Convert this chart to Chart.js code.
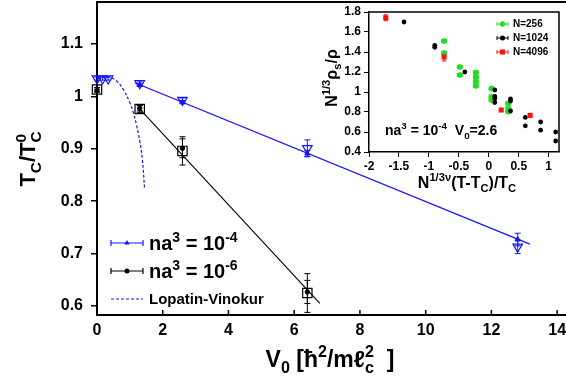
<!DOCTYPE html>
<html>
<head>
<meta charset="utf-8">
<script src="https://cdn.jsdelivr.net/npm/chart.js@4.4.1/dist/chart.umd.min.js"></script>
<style>
  html, body { margin: 0; padding: 0; overflow: hidden; background: #fff; width: 566px; height: 387px; }
  #wrap { position: relative; width: 600px; height: 387px; }
  #main { position: absolute; left: 0; top: 0; }
  #inset { position: absolute; left: 300px; top: 0; }
</style>
</head>
<body>
<div id="wrap">
  <canvas id="main" width="600" height="387"></canvas>
  <canvas id="inset" width="266" height="200"></canvas>
</div>
<script>
const FONT = '"Liberation Sans", Arial, Helvetica, sans-serif';
const BLUE = '#1414ff', GREEN = '#22dd22', RED = '#ff1010';

// ---- main plot: Tc/Tc0 vs V0 ----
const xTicks = [0, 2, 4, 6, 8, 10, 12, 14];
const yTicks = [0.6, 0.7, 0.8, 0.9, 1.0, 1.1];
const yTickLabels = ['0.6', '0.7', '0.8', '0.9', '1', '1.1'];

// na^3 = 1e-4
const v0Open4 = [0, 0.17, 0.34, 1.3, 2.6, 6.4, 12.8];
const tcOpen4 = [1.034, 1.034, 1.034, 1.025, 0.993, 0.901, 0.713];
const errOpen4 = [0.003, 0.003, 0.003, 0.004, 0.004, 0.016, 0.013];
const v0Fill4 = [1.3, 2.6, 6.4, 12.8];
const tcFill4 = [1.022, 0.989, 0.891, 0.727];
const errFill4 = [0.003, 0.003, 0.006, 0.012];
const fit4X = [1.15, 13.17];
const fit4Y = [1.026, 0.718];

// na^3 = 1e-6
const v0Six = [0, 1.3, 2.6, 6.4];
const tcOpen6 = [1.013, 0.976, 0.896, 0.625];
const errOpen6 = [0.004, 0.007, 0.027, 0.037];
const tcFill6 = [1.011, 0.977, 0.901, 0.627];
const errFill6 = [0.003, 0.005, 0.018, 0.022];
const fit6X = [1.27, 6.78];
const fit6Y = [0.978, 0.605];

// Lopatin-Vinokur curve
const lvX = [0, 0.2, 0.4, 0.6, 0.8, 1.0, 1.1, 1.2, 1.3, 1.38, 1.45];
const lvY = [1.033, 1.036, 1.036, 1.029, 1.013, 0.988, 0.970, 0.946, 0.915, 0.880, 0.822];

// ---- inset: scaled superfluid fraction ----
const inXTicks = [-2, -1.5, -1, -0.5, 0, 0.5, 1];
const inXTickLabels = ['-2', '-1.5', '-1', '-0.5', '0', '0.5', '1'];
const inYTicks = [0.4, 0.6, 0.8, 1.0, 1.2, 1.4, 1.6, 1.8];
const inYTickLabels = ['0.4', '0.6', '0.8', '1', '1.2', '1.4', '1.6', '1.8'];

const n256X = [-0.746, -0.746, -0.484, -0.484, -0.216, -0.216, -0.216, -0.216, 0.046, 0.046, 0.046, 0.325, 0.325, 0.325];
const n256Y = [1.51, 1.39, 1.25, 1.17, 1.195, 1.149, 1.105, 1.061, 1.035, 0.954, 0.92, 0.887, 0.836, 0.803];
const n1024X = [-1.415, -0.902, -0.902, -0.40, 0.10, 0.10, 0.10, 0.10, 0.363, 0.363, 0.363, 0.61, 0.61, 0.865, 0.865, 1.116, 1.116];
const n1024Y = [1.70, 1.467, 1.447, 1.20, 1.02, 0.955, 0.935, 0.895, 0.93, 0.91, 0.81, 0.746, 0.662, 0.70, 0.618, 0.60, 0.51];
const n4096X = [-1.72, -0.746, 0.207, 0.69];
const n4096Y = [1.742, 1.35, 0.82, 0.766];
const n4096Err = [0.03, 0.04, 0.012, 0.018];

const pts = (xs, ys) => xs.map((x, i) => ({ x, y: ys[i] }));
const fill = (xs, v) => xs.map(() => v);

// draws text with sub/superscripts; parts are strings or {sub, sup}
function rich(ctx, parts, x, y, size, align, color) {
  const sm = size * 0.7;
  const f = s => `bold ${s}px ${FONT}`;
  const w = p => {
    if (typeof p === 'string') { ctx.font = f(size); return ctx.measureText(p).width; }
    ctx.font = f(sm);
    return Math.max(p.sub ? ctx.measureText(p.sub).width : 0, p.sup ? ctx.measureText(p.sup).width : 0);
  };
  const total = parts.reduce((a, p) => a + w(p), 0);
  let cx = align === 'center' ? x - total / 2 : x;
  ctx.fillStyle = color || '#000';
  ctx.textAlign = 'left';
  ctx.textBaseline = 'alphabetic';
  parts.forEach(p => {
    const pw = w(p);
    if (typeof p === 'string') { ctx.font = f(size); ctx.fillText(p, cx, y); }
    else {
      ctx.font = f(sm);
      if (p.sub) ctx.fillText(p.sub, cx, y + size * 0.28);
      if (p.sup) ctx.fillText(p.sup, cx, y - size * 0.42);
    }
    cx += pw;
  });
}

const errorBars = {
  id: 'errorBars',
  beforeDatasetsDraw(chart) {
    const { ctx, scales: { x, y } } = chart;
    chart.data.datasets.forEach(ds => {
      if (!ds.errY && !ds.errX) return;
      const cap = ds.cap || 3;
      ctx.save();
      ctx.strokeStyle = ds.errColor || ds.borderColor;
      ctx.lineWidth = 1;
      ds.data.forEach((p, i) => {
        const px = x.getPixelForValue(p.x), py = y.getPixelForValue(p.y);
        ctx.beginPath();
        if (ds.errY) {
          const t = y.getPixelForValue(p.y + ds.errY[i]), b = y.getPixelForValue(p.y - ds.errY[i]);
          ctx.moveTo(px, t); ctx.lineTo(px, b);
          ctx.moveTo(px - cap, t); ctx.lineTo(px + cap, t);
          ctx.moveTo(px - cap, b); ctx.lineTo(px + cap, b);
        }
        if (ds.errX) {
          const l = x.getPixelForValue(p.x - ds.errX[i]), r = x.getPixelForValue(p.x + ds.errX[i]);
          ctx.moveTo(l, py); ctx.lineTo(r, py);
          ctx.moveTo(l, py - cap); ctx.lineTo(l, py + cap);
          ctx.moveTo(r, py - cap); ctx.lineTo(r, py + cap);
        }
        ctx.stroke();
      });
      ctx.restore();
    });
  }
};

function marker(ctx, kind, x, y, color) {
  ctx.fillStyle = color; ctx.strokeStyle = color;
  ctx.beginPath();
  if (kind === 'tri') {
    const r = 3;
    ctx.moveTo(x, y - r); ctx.lineTo(x + r * 0.866, y + r / 2); ctx.lineTo(x - r * 0.866, y + r / 2); ctx.closePath(); ctx.fill();
  } else if (kind === 'dot') {
    ctx.arc(x, y, 2.5, 0, Math.PI * 2); ctx.fill();
  } else if (kind === 'sq') {
    ctx.rect(x - 2.5, y - 2.5, 5, 5); ctx.fill();
  } else if (kind === 'star') {
    ctx.lineWidth = 1.5;
    ctx.moveTo(x - 3, y); ctx.lineTo(x + 3, y); ctx.moveTo(x, y - 3); ctx.lineTo(x, y + 3);
    ctx.moveTo(x - 2, y - 2); ctx.lineTo(x + 2, y + 2); ctx.moveTo(x - 2, y + 2); ctx.lineTo(x + 2, y - 2);
    ctx.stroke();
  }
}

const mainDecor = {
  id: 'mainDecor',
  afterDraw(chart) {
    const { ctx, chartArea: a, scales: { x } } = chart;
    ctx.save();
    ctx.strokeStyle = '#000';
    ctx.lineWidth = 2;
    ctx.beginPath(); ctx.moveTo(a.left - 1, a.top); ctx.lineTo(chart.width, a.top); ctx.stroke();
    ctx.lineWidth = 1.5;
    xTicks.forEach(v => {
      const px = x.getPixelForValue(v);
      ctx.beginPath(); ctx.moveTo(px, a.bottom); ctx.lineTo(px, a.bottom - 5); ctx.stroke();
    });
    // axis titles
    rich(ctx, ['V', { sub: '0' }, ' [\u0127', { sup: '2' }, '/m\u2113', { sub: 'c', sup: '2' }, '  ]'], 330, 367, 23, 'center');
    ctx.save();
    ctx.translate(35, 159); ctx.rotate(-Math.PI / 2);
    rich(ctx, ['T', { sub: 'C' }, '/T', { sub: 'C', sup: '0' }], 0, 0, 22, 'center');
    ctx.restore();
    // legend
    const rows = [
      { y: 243, color: BLUE, m: 'tri', text: ['na', { sup: '3' }, ' = 10', { sup: '-4' }], size: 20, base: 250 },
      { y: 271, color: '#000', m: 'dot', text: ['na', { sup: '3' }, ' = 10', { sup: '-6' }], size: 20, base: 278 },
      { y: 299, color: BLUE, m: 'dash', text: ['Lopatin-Vinokur'], size: 15, base: 304 }
    ];
    rows.forEach(r => {
      ctx.strokeStyle = r.color; ctx.lineWidth = 1.2;
      ctx.beginPath();
      if (r.m === 'dash') ctx.setLineDash([3, 2]);
      ctx.moveTo(111, r.y); ctx.lineTo(143, r.y);
      if (r.m !== 'dash') { ctx.moveTo(111, r.y - 3); ctx.lineTo(111, r.y + 3); ctx.moveTo(143, r.y - 3); ctx.lineTo(143, r.y + 3); }
      ctx.stroke(); ctx.setLineDash([]);
      if (r.m !== 'dash') marker(ctx, r.m, 127, r.y, r.color);
      rich(ctx, r.text, 149, r.base, r.size, 'left');
    });
    ctx.restore();
  }
};

const insetDecor = {
  id: 'insetDecor',
  afterDraw(chart) {
    const { ctx, chartArea: a } = chart;
    ctx.save();
    ctx.strokeStyle = '#000'; ctx.lineWidth = 1.5;
    ctx.beginPath();
    ctx.moveTo(a.left, a.top); ctx.lineTo(a.right, a.top); ctx.lineTo(a.right, a.bottom);
    ctx.stroke();
    rich(ctx, ['N', { sup: '1/3\u03bd' }, '(T-T', { sub: 'C' }, ')/T', { sub: 'C' }], 167, 188, 16, 'center');
    ctx.save();
    ctx.translate(37, 78); ctx.rotate(-Math.PI / 2);
    rich(ctx, ['N', { sup: '1/3' }, '\u03c1', { sub: 's' }, '/\u03c1'], 0, 0, 16, 'center');
    ctx.restore();
    rich(ctx, ['na', { sup: '3' }, ' = 10', { sup: '-4' }, '  V', { sub: '0' }, '=2.6'], 85, 135, 14, 'left');
    const rows = [
      { y: 24, color: GREEN, m: 'star', label: 'N=256' },
      { y: 38, color: '#000', m: 'dot', label: 'N=1024' },
      { y: 52, color: RED, m: 'sq', label: 'N=4096' }
    ];
    rows.forEach(r => {
      ctx.strokeStyle = r.color; ctx.lineWidth = 1;
      ctx.beginPath();
      ctx.moveTo(197, r.y); ctx.lineTo(208, r.y);
      ctx.moveTo(197, r.y - 2); ctx.lineTo(197, r.y + 2); ctx.moveTo(208, r.y - 2); ctx.lineTo(208, r.y + 2);
      ctx.stroke();
      marker(ctx, r.m, 202.5, r.y, r.color);
      ctx.fillStyle = '#000'; ctx.font = `bold 10px ${FONT}`;
      ctx.textAlign = 'left'; ctx.textBaseline = 'middle';
      ctx.fillText(r.label, 213, r.y);
    });
    ctx.restore();
  }
};

const tickFont = size => ({ family: FONT, size, weight: 'bold' });

new Chart(document.getElementById('main').getContext('2d'), {
  type: 'scatter',
  data: {
    datasets: [
      { data: pts(v0Fill4, tcFill4), errY: errFill4, borderColor: BLUE, backgroundColor: BLUE,
        pointStyle: 'triangle', pointRadius: 3, borderWidth: 1, clip: false },
      { data: pts(v0Open4, tcOpen4), errY: errOpen4, borderColor: BLUE, backgroundColor: 'rgba(0,0,0,0)',
        pointStyle: 'triangle', pointRotation: 180, pointRadius: 5.5, borderWidth: 1.2, clip: false },
      { data: pts(v0Six, tcFill6), errY: errFill6, borderColor: '#000', backgroundColor: '#000',
        pointStyle: 'circle', pointRadius: 2.2, borderWidth: 1, clip: false },
      { data: pts(v0Six, tcOpen6), errY: errOpen6, borderColor: '#000', backgroundColor: 'rgba(0,0,0,0)',
        pointStyle: 'rect', pointRadius: 6.6, borderWidth: 1.2, clip: false },
      { data: pts(fit4X, fit4Y), showLine: true, borderColor: BLUE, borderWidth: 1.3, pointRadius: 0 },
      { data: pts(fit6X, fit6Y), showLine: true, borderColor: '#000', borderWidth: 1.1, pointRadius: 0 },
      { data: pts(lvX, lvY), showLine: true, borderColor: BLUE, borderWidth: 1.2, borderDash: [3, 2],
        pointRadius: 0, tension: 0.4 }
    ]
  },
  options: {
    responsive: false, animation: false, devicePixelRatio: 1,
    layout: { autoPadding: false, padding: { top: 2, right: 10, left: 0, bottom: 0 } },
    plugins: { legend: { display: false }, tooltip: { enabled: false } },
    scales: {
      x: {
        type: 'linear', min: 0, max: 15,
        afterBuildTicks: s => { s.ticks = xTicks.map(v => ({ value: v })); },
        afterFit: s => { s.height = 72; s.paddingLeft = 0; s.paddingRight = 0; },
        ticks: { font: tickFont(16), color: '#000', padding: 6, maxRotation: 0, autoSkip: false, callback: v => String(v) },
        grid: { display: true, drawOnChartArea: false, drawTicks: false },
        border: { display: true, color: '#000', width: 2 }
      },
      y: {
        type: 'linear', min: 0.583, max: 1.18,
        afterBuildTicks: s => { s.ticks = yTicks.map(v => ({ value: v })); },
        afterFit: s => { s.width = 97; s.paddingTop = 0; s.paddingBottom = 0; },
        ticks: { font: tickFont(16), color: '#000', padding: 8, autoSkip: false, callback: (v, i) => yTickLabels[i] },
        grid: { drawOnChartArea: false, drawTicks: true, tickLength: 6, color: '#000', lineWidth: 1.5 },
        border: { display: true, color: '#000', width: 2 }
      }
    }
  },
  plugins: [errorBars, mainDecor]
});

new Chart(document.getElementById('inset').getContext('2d'), {
  type: 'scatter',
  data: {
    datasets: [
      { data: pts(n4096X, n4096Y), errY: n4096Err, cap: 2, borderColor: RED, backgroundColor: RED,
        pointStyle: 'rect', pointRadius: 3.6, borderWidth: 0, clip: false },
      { data: pts(n1024X, n1024Y), borderColor: '#000', backgroundColor: '#000',
        pointStyle: 'circle', pointRadius: 2.4, borderWidth: 0, clip: false },
      { data: pts(n256X, n256Y), errX: fill(n256X, 0.04), cap: 2, borderColor: GREEN, backgroundColor: GREEN,
        pointStyle: 'star', pointRadius: 3, borderWidth: 1.5, clip: false }
    ]
  },
  options: {
    responsive: false, animation: false, devicePixelRatio: 1,
    layout: { autoPadding: false, padding: { top: 12, right: 7, left: 0, bottom: 0 } },
    plugins: { legend: { display: false }, tooltip: { enabled: false } },
    scales: {
      x: {
        type: 'linear', min: -2, max: 1.172,
        afterBuildTicks: s => { s.ticks = inXTicks.map(v => ({ value: v })); },
        afterFit: s => { s.height = 48; s.paddingLeft = 0; s.paddingRight = 0; },
        ticks: { font: tickFont(12), color: '#000', padding: 2, maxRotation: 0, autoSkip: false, callback: (v, i) => inXTickLabels[i] },
        grid: { drawOnChartArea: false, drawTicks: true, tickLength: 5, color: '#000', lineWidth: 1 },
        border: { display: true, color: '#000', width: 1.5 }
      },
      y: {
        type: 'linear', min: 0.4, max: 1.8,
        afterBuildTicks: s => { s.ticks = inYTicks.map(v => ({ value: v })); },
        afterFit: s => { s.width = 69; s.paddingTop = 0; s.paddingBottom = 0; },
        ticks: { font: tickFont(12), color: '#000', padding: 3, autoSkip: false, callback: (v, i) => inYTickLabels[i] },
        grid: { drawOnChartArea: false, drawTicks: true, tickLength: 5, color: '#000', lineWidth: 1 },
        border: { display: true, color: '#000', width: 1.5 }
      }
    }
  },
  plugins: [errorBars, insetDecor]
});
</script>
</body>
</html>
